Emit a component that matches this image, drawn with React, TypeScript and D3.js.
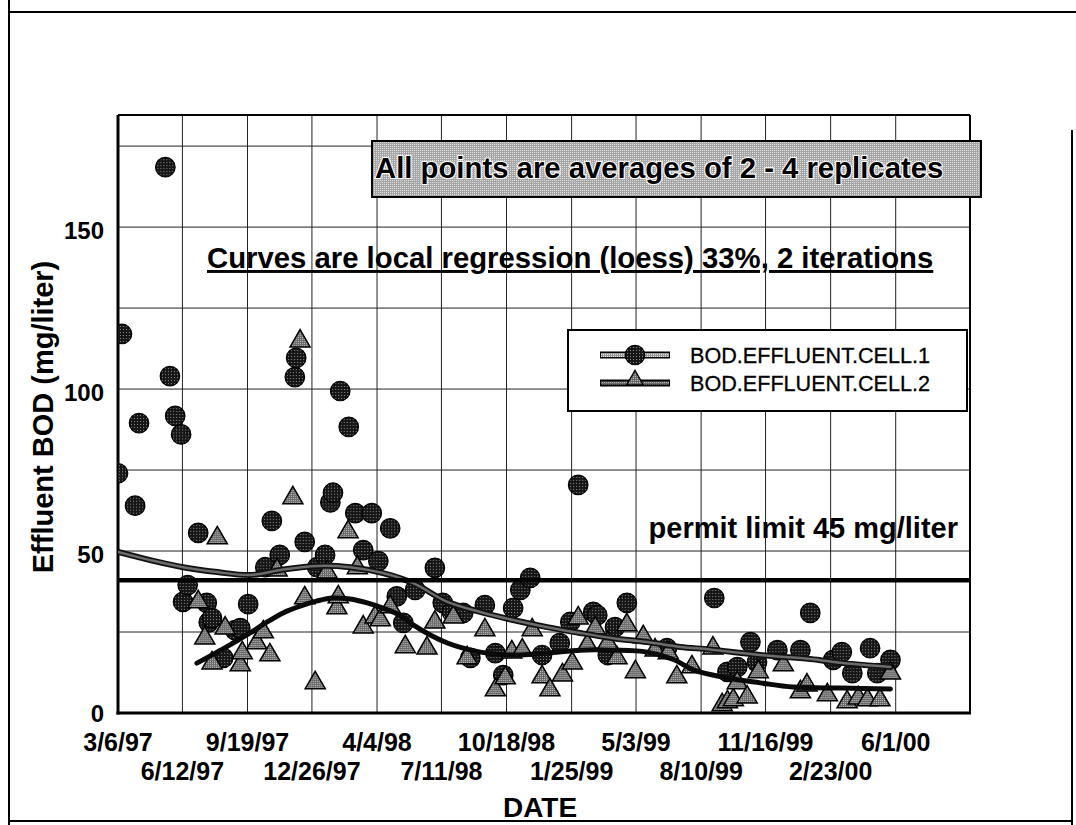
import React from "react";
import * as d3 from "d3";

// ---- data (x = days after 3/6/97, y = effluent BOD mg/liter) ----
const START = "1997-03-06";
const END_DAY = 1296;

const tickLabels = [
  "3/6/97", "6/12/97", "9/19/97", "12/26/97", "4/4/98", "7/11/98", "10/18/98",
  "1/25/99", "5/3/99", "8/10/99", "11/16/99", "2/23/00", "6/1/00",
];
const yTickValues = [0, 50, 100, 150];
const yGridValues = [25, 50, 75, 100, 125, 150, 175];
const yMax = 184.6;
const permitLimit = 41;

const cell1Days = [0, 6, 26, 32, 72, 79, 87, 96, 99, 106, 122, 135, 138, 143, 160, 178, 186, 198, 224, 234, 246, 269, 271, 284, 303, 315, 323, 327, 338, 351, 361, 373, 386, 396, 414, 424, 434, 452, 482, 494, 508, 525, 536, 558, 574, 586, 601, 612, 627, 645, 672, 688, 700, 723, 729, 745, 756, 774, 835, 907, 927, 942, 962, 972, 1003, 1038, 1053, 1088, 1101, 1117, 1144, 1155, 1175];
const cell1Values = [74, 117, 64, 89.5, 168.5, 104, 91.7, 86, 34.3, 39.5, 55.6, 34, 28, 29.3, 17, 25.6, 26.2, 33.6, 45, 59.3, 48.8, 103.7, 109.6, 52.8, 45, 48.8, 65, 68, 99.4, 88.3, 61.7, 50.3, 61.7, 46.9, 57, 36, 27.8, 38, 44.8, 34, 31.2, 30.9, 17, 33.3, 18.5, 11.7, 32.4, 38, 41.7, 17.9, 21.6, 28.1, 70.4, 31.2, 30.2, 17.9, 26.5, 34, 20, 35.5, 12.7, 14.2, 21.9, 15.7, 19.4, 19.4, 30.9, 16.4, 18.8, 12.3, 20, 12.3, 16.4];

const cell2Days = [122, 132, 143, 151, 163, 186, 189, 211, 221, 231, 242, 266, 277, 284, 300, 318, 333, 335, 350, 364, 373, 391, 399, 414, 437, 470, 482, 510, 531, 558, 574, 589, 599, 615, 630, 645, 657, 676, 691, 700, 714, 726, 745, 759, 774, 787, 799, 817, 837, 850, 873, 905, 919, 927, 936, 942, 957, 974, 1012, 1038, 1048, 1079, 1109, 1126, 1140, 1159, 1175];
const cell2Values = [34.3, 23.1, 15.4, 54, 26.2, 14.8, 18.5, 21.6, 25, 17.9, 44.1, 66.4, 114.8, 35.5, 9.3, 43.5, 32.4, 35.8, 55.9, 44.8, 26.5, 29.6, 28.7, 32.7, 20.4, 20, 28, 29.6, 17, 25.6, 7.1, 10.8, 18.8, 19.4, 25.6, 11.1, 7.1, 11.7, 15.4, 29.3, 21, 26.2, 21.6, 17, 27.2, 12.7, 23.5, 19.4, 18.5, 11.1, 14.2, 20, 2.5, 3.4, 4, 9.3, 4.9, 12.7, 14.8, 6.5, 8.6, 5.6, 3.4, 4.6, 4, 4, 12.3];

// loess curves
const loess1Days = [0, 49, 99, 151, 201, 251, 303, 353, 403, 449, 501, 551, 601, 653, 703, 753, 805, 855, 901, 977, 1053, 1103, 1175];
const loess1Values = [49.7, 47.2, 45, 43.5, 42.6, 44.3, 45.4, 45, 43.2, 40.1, 34.3, 31.2, 28.7, 26.5, 24.7, 23.1, 21.9, 20.4, 19.6, 17.9, 16.7, 15.4, 14.2];
const loess2Days = [120, 151, 175, 201, 227, 251, 277, 303, 327, 353, 379, 403, 429, 449, 475, 501, 525, 551, 601, 653, 703, 753, 805, 845, 875, 927, 977, 1027, 1103, 1175];
const loess2Values = [15.4, 18.8, 21.6, 24.7, 28.1, 30.9, 33, 34.6, 35.5, 35.2, 34, 32.4, 30.2, 27.2, 24.1, 21.6, 20, 18.8, 17.9, 18.5, 19.4, 19.4, 18.8, 16.5, 13.3, 10.8, 9.3, 8, 7.7, 7.4];

const seriesNames = ["BOD.EFFLUENT.CELL.1", "BOD.EFFLUENT.CELL.2"];

const FONT = "'Liberation Sans', Arial, Helvetica, sans-serif";

export default function App() {
  const startDate = d3.utcParse("%Y-%m-%d")(START) as Date;
  const toDate = (d: number) => d3.utcDay.offset(startDate, d);
  const parseTick = d3.utcParse("%-m/%-d/%y");

  const left = 118, right = 970, top = 115, bottom = 713;
  const x = d3.scaleUtc().domain([startDate, toDate(END_DAY)]).range([left, right]);
  const y = d3.scaleLinear().domain([0, yMax]).range([bottom, top]);

  const tickDates = tickLabels.map((t) => parseTick(t) as Date);

  const pts1 = cell1Days.map((d, i) => ({ date: toDate(d), v: cell1Values[i] }));
  const pts2 = cell2Days.map((d, i) => ({ date: toDate(d), v: cell2Values[i] }));
  const l1 = loess1Days.map((d, i) => ({ date: toDate(d), v: loess1Values[i] }));
  const l2 = loess2Days.map((d, i) => ({ date: toDate(d), v: loess2Values[i] }));

  const line = d3
    .line<{ date: Date; v: number }>()
    .x((p) => x(p.date))
    .y((p) => y(p.v))
    .curve(d3.curveCatmullRom);

  const circlePath = d3.symbol().type(d3.symbolCircle).size(300)() as string;
  const triPath = d3.symbol().type(d3.symbolTriangle).size(175)() as string;
  const triLegend = d3.symbol().type(d3.symbolTriangle).size(120)() as string;

  return (
    <svg
      width={1076}
      height={825}
      style={{ position: "absolute", left: 0, top: 0, background: "#fff" }}
      fontFamily={FONT}
    >
      <defs>
        <pattern id="dotDark" width={3} height={3} patternUnits="userSpaceOnUse">
          <rect width={3} height={3} fill="#161616" />
          <rect x={1} y={1} width={1} height={1} fill="#8a8a8a" />
        </pattern>
        <pattern id="dotGray" width={2} height={2} patternUnits="userSpaceOnUse">
          <rect width={2} height={2} fill="#6a6a6a" />
          <rect x={0} y={0} width={1} height={1} fill="#b8b8b8" />
        </pattern>
        <pattern id="dotBox" width={2} height={2} patternUnits="userSpaceOnUse">
          <rect width={2} height={2} fill="#a6a6a6" />
          <rect x={0} y={0} width={1} height={1} fill="#dcdcdc" />
        </pattern>
        <pattern id="dotLight" width={2} height={2} patternUnits="userSpaceOnUse">
          <rect width={2} height={2} fill="#9a9a9a" />
          <rect x={1} y={0} width={1} height={1} fill="#e0e0e0" />
        </pattern>
        <clipPath id="plotClip">
          <rect x={left} y={top} width={right - left} height={bottom - top} />
        </clipPath>
      </defs>

      {/* outer frame */}
      <line x1={8} y1={12} x2={1076} y2={12} stroke="#000" strokeWidth={2} />
      <line x1={9} y1={0} x2={9} y2={825} stroke="#000" strokeWidth={2} />
      <line x1={1072} y1={130} x2={1072} y2={825} stroke="#000" strokeWidth={2} />
      <line x1={8} y1={821} x2={1072} y2={821} stroke="#000" strokeWidth={2} />

      {/* grid */}
      <g stroke="#222" strokeWidth={1}>
        {tickDates.slice(1).map((d, i) => (
          <line key={"vg" + i} x1={x(d)} x2={x(d)} y1={top} y2={bottom} />
        ))}
        {yGridValues.map((v) => (
          <line key={"hg" + v} x1={left} x2={right} y1={y(v)} y2={y(v)} />
        ))}
      </g>

      {/* plot border */}
      <line x1={left} x2={right} y1={top} y2={top} stroke="#000" strokeWidth={2} />
      <line x1={right} x2={right} y1={top} y2={bottom} stroke="#000" strokeWidth={2} />
      <line x1={left} x2={left} y1={top} y2={bottom + 1.5} stroke="#000" strokeWidth={3} />
      <line x1={left - 1.5} x2={right + 1} y1={bottom} y2={bottom} stroke="#000" strokeWidth={3} />

      {/* annotation box */}
      <rect x={372} y={141} width={609} height={56} fill="url(#dotBox)" stroke="#000" strokeWidth={2} />
      <text
        x={375}
        y={178}
        fontSize={29.3}
        fontWeight="bold"
        fill="#000"
        stroke="#fff"
        strokeWidth={2.2}
        style={{ paintOrder: "stroke" }}
      >
        All points are averages of 2 - 4 replicates
      </text>
      <text x={207} y={268} fontSize={29.3} fontWeight="bold" fill="#000" style={{ textDecoration: "underline" }}>
        Curves are local regression (loess) 33%, 2 iterations
      </text>

      {/* legend */}
      <rect x={568} y={330} width={399} height={81} fill="#fff" stroke="#000" strokeWidth={2} />
      <g>
        <line x1={600} x2={670} y1={355} y2={355} stroke="#000" strokeWidth={7} />
        <line x1={601} x2={669} y1={355} y2={355} stroke="url(#dotLight)" strokeWidth={4} />
        <path d={circlePath} transform={`translate(635,355)`} fill="url(#dotDark)" stroke="#000" strokeWidth={1.2} />
        <line x1={600} x2={670} y1={383} y2={383} stroke="#000" strokeWidth={7} />
        <line x1={601} x2={669} y1={383} y2={383} stroke="url(#dotGray)" strokeWidth={3} />
        <path d={triLegend} transform={`translate(635,380)`} fill="url(#dotGray)" stroke="#000" strokeWidth={1.3} />
        <text x={690} y={363} fontSize={21.6} fill="#000" stroke="#000" strokeWidth={0.3}>{seriesNames[0]}</text>
        <text x={690} y={391} fontSize={21.6} fill="#000" stroke="#000" strokeWidth={0.3}>{seriesNames[1]}</text>
      </g>

      <text x={958} y={538} fontSize={29} fontWeight="bold" textAnchor="end" fill="#000">
        permit limit 45 mg/liter
      </text>

      {/* points */}
      <g clipPath="url(#plotClip)">
        {pts1.map((p, i) => (
          <path
            key={"c" + i}
            d={circlePath}
            transform={`translate(${x(p.date)},${y(p.v)})`}
            fill="url(#dotDark)"
            stroke="#000"
            strokeWidth={1.2}
          />
        ))}
        {pts2.map((p, i) => (
          <path
            key={"t" + i}
            d={triPath}
            transform={`translate(${x(p.date)},${y(p.v)})`}
            fill="url(#dotGray)"
            stroke="#000"
            strokeWidth={1.5}
          />
        ))}
        {/* loess curves */}
        <path d={line(l1) as string} fill="none" stroke="#111" strokeWidth={6} strokeLinecap="round" />
        <path d={line(l1) as string} fill="none" stroke="#6c6c6c" strokeWidth={2.5} strokeLinecap="round" />
        <path d={line(l2) as string} fill="none" stroke="#0a0a0a" strokeWidth={5} strokeLinecap="round" />
      </g>

      {/* permit limit */}
      <line x1={left} x2={right} y1={y(permitLimit)} y2={y(permitLimit)} stroke="#000" strokeWidth={4.5} />

      {/* y axis labels */}
      {yTickValues.map((v) => (
        <text
          key={"yl" + v}
          x={104}
          y={y(v) + (v === 0 ? 0 : 3)}
          fontSize={24}
          fontWeight="bold"
          textAnchor="end"
          dominantBaseline="central"
        >
          {v}
        </text>
      ))}
      <text
        transform={`translate(53,417) rotate(-90)`}
        fontSize={29}
        fontWeight="bold"
        textAnchor="middle"
      >
        Effluent BOD (mg/liter)
      </text>

      {/* x axis labels */}
      {tickDates.map((d, i) => (
        <text
          key={"xl" + i}
          x={x(d)}
          y={i % 2 === 0 ? 751 : 780}
          fontSize={25}
          fontWeight="bold"
          textAnchor="middle"
        >
          {tickLabels[i]}
        </text>
      ))}
      <text x={540} y={817} fontSize={28} fontWeight="bold" textAnchor="middle">
        DATE
      </text>
    </svg>
  );
}
